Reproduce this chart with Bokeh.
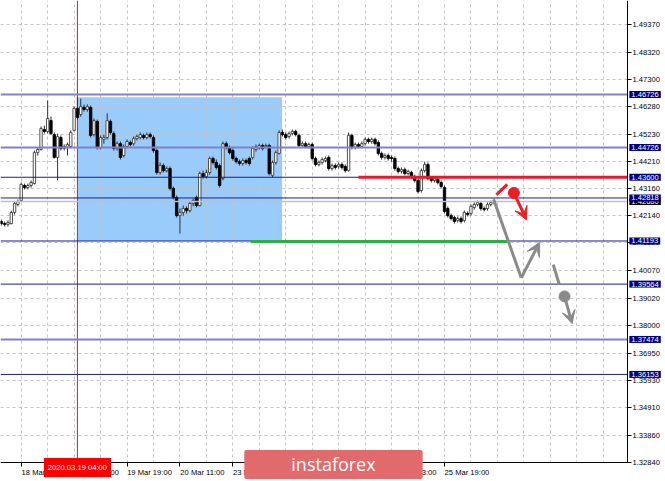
from bokeh.plotting import figure
from bokeh.models import Label, FixedTicker, Range1d, Arrow, VeeHead, LinearAxis
from bokeh.embed import file_html
from bokeh.resources import INLINE

# ---------------- data ----------------
bars = list(range(150))
opens = [1.4193,1.4185,1.4182,1.4185,1.4227,1.4257,1.4272,1.4329,1.4321,1.4329,
1.4336,1.4453,1.4465,1.4540,1.4533,1.4574,1.4521,1.4435,1.4510,1.4469,
1.4472,1.4476,1.4537,1.4620,1.4597,1.4624,1.4616,1.4624,1.4521,1.4571,
1.4472,1.4503,1.4510,1.4571,1.4525,1.4469,1.4487,1.4442,1.4476,1.4491,
1.4487,1.4506,1.4510,1.4518,1.4510,1.4521,1.4510,1.4461,1.4378,1.4404,
1.4385,1.4393,1.4318,1.4284,1.4215,1.4227,1.4242,1.4234,1.4261,1.4284,
1.4253,1.4374,1.4363,1.4378,1.4431,1.4416,1.4404,1.4355,1.4487,1.4472,
1.4461,1.4431,1.4419,1.4412,1.4423,1.4431,1.4435,1.4465,1.4472,1.4480,
1.4476,1.4480,1.4367,1.4416,1.4450,1.4529,1.4521,1.4514,1.4525,1.4533,
1.4518,1.4480,1.4487,1.4476,1.4484,1.4431,1.4408,1.4416,1.4423,1.4435,
1.4393,1.4404,1.4401,1.4408,1.4401,1.4385,1.4518,1.4472,1.4484,1.4476,
1.4487,1.4503,1.4495,1.4503,1.4491,1.4450,1.4435,1.4442,1.4435,1.4431,
1.4393,1.4382,1.4389,1.4374,1.4378,1.4363,1.4348,1.4310,1.4385,1.4408,
1.4355,1.4348,1.4352,1.4340,1.4321,1.4242,1.4215,1.4208,1.4197,1.4204,
1.4197,1.4223,1.4223,1.4246,1.4257,1.4261,1.4242,1.4242,1.4257,1.4265]
closes = [1.4185,1.4182,1.4189,1.4227,1.4261,1.4268,1.4333,1.4321,1.4329,1.4340,
1.4453,1.4465,1.4544,1.4533,1.4582,1.4525,1.4435,1.4514,1.4469,1.4476,
1.4484,1.4529,1.4620,1.4586,1.4627,1.4616,1.4627,1.4518,1.4574,1.4472,
1.4510,1.4510,1.4574,1.4529,1.4469,1.4487,1.4435,1.4476,1.4495,1.4484,
1.4506,1.4514,1.4521,1.4510,1.4521,1.4514,1.4461,1.4378,1.4404,1.4385,
1.4393,1.4318,1.4284,1.4215,1.4227,1.4242,1.4234,1.4261,1.4272,1.4253,
1.4374,1.4363,1.4378,1.4431,1.4416,1.4397,1.4329,1.4487,1.4472,1.4453,
1.4431,1.4419,1.4412,1.4423,1.4416,1.4412,1.4469,1.4476,1.4480,1.4469,
1.4480,1.4374,1.4416,1.4453,1.4529,1.4521,1.4510,1.4525,1.4533,1.4521,
1.4480,1.4487,1.4476,1.4484,1.4431,1.4408,1.4416,1.4427,1.4431,1.4393,
1.4404,1.4397,1.4408,1.4397,1.4385,1.4518,1.4472,1.4484,1.4476,1.4487,
1.4503,1.4495,1.4503,1.4487,1.4450,1.4435,1.4442,1.4431,1.4431,1.4393,
1.4382,1.4389,1.4374,1.4382,1.4363,1.4348,1.4306,1.4385,1.4408,1.4355,
1.4348,1.4355,1.4340,1.4325,1.4231,1.4215,1.4204,1.4193,1.4204,1.4193,
1.4227,1.4219,1.4250,1.4257,1.4265,1.4242,1.4238,1.4257,1.4265,1.4268]
highs = [1.4200,1.4193,1.4197,1.4234,1.4268,1.4276,1.4340,1.4336,1.4336,1.4348,
1.4461,1.4472,1.4552,1.4555,1.4650,1.4589,1.4529,1.4525,1.4518,1.4484,
1.4491,1.4537,1.4627,1.4661,1.4657,1.4635,1.4635,1.4631,1.4582,1.4578,
1.4518,1.4521,1.4601,1.4578,1.4533,1.4495,1.4495,1.4484,1.4503,1.4499,
1.4514,1.4521,1.4529,1.4525,1.4529,1.4529,1.4518,1.4469,1.4416,1.4412,
1.4401,1.4401,1.4325,1.4291,1.4242,1.4253,1.4250,1.4268,1.4280,1.4291,
1.4382,1.4385,1.4389,1.4438,1.4438,1.4427,1.4412,1.4495,1.4495,1.4480,
1.4469,1.4438,1.4427,1.4431,1.4431,1.4438,1.4476,1.4484,1.4487,1.4487,
1.4487,1.4487,1.4423,1.4461,1.4537,1.4540,1.4529,1.4533,1.4540,1.4540,
1.4525,1.4495,1.4495,1.4491,1.4491,1.4438,1.4423,1.4435,1.4438,1.4442,
1.4412,1.4412,1.4416,1.4416,1.4408,1.4529,1.4525,1.4491,1.4491,1.4495,
1.4510,1.4510,1.4510,1.4510,1.4499,1.4457,1.4450,1.4450,1.4442,1.4438,
1.4401,1.4397,1.4397,1.4389,1.4385,1.4370,1.4355,1.4393,1.4419,1.4416,
1.4363,1.4363,1.4359,1.4348,1.4329,1.4250,1.4223,1.4215,1.4212,1.4212,
1.4234,1.4231,1.4257,1.4265,1.4272,1.4268,1.4250,1.4265,1.4272,1.4280]
lows = [1.4178,1.4174,1.4174,1.4182,1.4219,1.4250,1.4268,1.4314,1.4314,1.4321,
1.4333,1.4442,1.4461,1.4525,1.4525,1.4521,1.4431,1.4348,1.4461,1.4461,
1.4442,1.4469,1.4533,1.4578,1.4589,1.4608,1.4608,1.4510,1.4514,1.4465,
1.4465,1.4487,1.4503,1.4521,1.4461,1.4461,1.4427,1.4435,1.4469,1.4476,
1.4480,1.4499,1.4503,1.4503,1.4503,1.4506,1.4453,1.4370,1.4370,1.4378,
1.4378,1.4310,1.4276,1.4208,1.4147,1.4215,1.4223,1.4227,1.4250,1.4246,
1.4250,1.4355,1.4355,1.4370,1.4408,1.4389,1.4321,1.4348,1.4465,1.4446,
1.4423,1.4412,1.4404,1.4404,1.4408,1.4404,1.4427,1.4457,1.4465,1.4461,
1.4469,1.4367,1.4359,1.4408,1.4446,1.4514,1.4503,1.4506,1.4518,1.4514,
1.4472,1.4472,1.4469,1.4469,1.4423,1.4401,1.4401,1.4408,1.4416,1.4385,
1.4385,1.4389,1.4393,1.4389,1.4378,1.4382,1.4465,1.4465,1.4469,1.4469,
1.4480,1.4487,1.4487,1.4480,1.4442,1.4427,1.4427,1.4423,1.4419,1.4385,
1.4374,1.4374,1.4367,1.4367,1.4355,1.4340,1.4299,1.4302,1.4378,1.4348,
1.4340,1.4340,1.4333,1.4318,1.4223,1.4208,1.4197,1.4185,1.4189,1.4185,
1.4189,1.4212,1.4215,1.4238,1.4250,1.4234,1.4231,1.4234,1.4250,1.4257]

price_ticks = [1.49370,1.48320,1.47300,1.46280,1.45230,1.44210,1.43160,1.42140,1.41120,
               1.40070,1.39020,1.38000,1.36950,1.35930,1.34910,1.33860,1.32840]
price_tick_labels = ["1.49370","1.48320","1.47300","1.46280","1.45230","1.44210","1.43160",
                     "1.42140","1.41120","1.40070","1.39020","1.38000","1.36950","1.35930",
                     "1.34910","1.33860","1.32840"]
time_ticks = [6, 22, 38, 54, 70, 86, 102, 118, 134]
time_labels = ["18 Mar 11:00","19 Mar 03:00","19 Mar 19:00","20 Mar 11:00","23 Mar 03:00",
               "23 Mar 19:00","24 Mar 11:00","25 Mar 03:00","25 Mar 19:00"]
grid_bars = [-2,6,14,22,30,38,46,54,62,70,78,86,94,102,110,118,126,134,142,150,158,166,174,182,190]

light_levels = [1.46726, 1.44726, 1.37474]
dark_levels = [1.43600, 1.42818, 1.41193, 1.39564, 1.36153]
level_labels = ["1.46726","1.44726","1.43600","1.42818","1.41193","1.39564","1.37474","1.36153"]
level_values = [1.46726, 1.44726, 1.43600, 1.42818, 1.41193, 1.39564, 1.37474, 1.36153]
bid_price = 1.4268
bid_label = "1.42680"

cursor_bar = 23
cursor_label = "2020.03.19 04:00"
zone_left, zone_right, zone_top, zone_bottom = 23.1, 84.9, 1.4662, 1.41193
red_level = 1.43600
red_level_x = [108, 189.33]
green_level = 1.4117
green_level_x = [75.3, 153.0]

grey_path_x = [148.9, 157.2]
grey_path_y = [1.4275, 1.3980]
grey_arrow = [157.2, 1.3980, 162.8, 1.4115]
grey_dash_x = [166.9, 168.7]
grey_dash_y = [1.4030, 1.3955]
grey_dot = [170.3, 1.3910]
grey_dot_arrow_end = [172.6, 1.3807]
red_slash_x = [149.7, 152.96]
red_slash_y = [1.4294, 1.4333]
red_dot = [155.0, 1.4301]
red_dot_arrow_end = [158.8, 1.4199]

# chart window: visible bars / prices and where the two scales sit
X_START, X_END = -0.26, 200.83
Y_START, Y_END = 1.32109, 1.50276
AXIS_BAR = 189.33      # price scale position (bar units)
AXIS_PRICE = 1.32826   # time scale position (price units)
LABEL_SHIFT = 6.8      # time labels start at their tick (half a label width, in bars)

# ---------------- figure ----------------
FONT = "Liberation Sans"
FSIZE = "7.6px"
p = figure(width=665, height=481, output_backend="svg", toolbar_location=None,
           x_range=Range1d(X_START, X_END), y_range=Range1d(Y_START, Y_END),
           y_axis_location="right", min_border=0)
p.outline_line_color = None
p.background_fill_color = "white"
p.border_fill_color = "white"

# zone rectangle (beneath grid)
zr = p.quad(left=[zone_left], right=[zone_right], top=[zone_top], bottom=[zone_bottom],
            fill_color="#99ccfb", line_color=None)
zr.level = "image"

# grid
p.xgrid.ticker = FixedTicker(ticks=grid_bars)
p.ygrid.ticker = FixedTicker(ticks=price_ticks)
for g in (p.xgrid, p.ygrid):
    g.grid_line_color = "#c4c4c4"
    g.grid_line_dash = "3 3"
    g.grid_line_width = 1

# mask the scale area so grid lines stop at the scales
p.quad(left=[AXIS_BAR], right=[X_END], top=[Y_END], bottom=[Y_START], fill_color="white", line_color=None)
p.quad(left=[X_START], right=[X_END], top=[AXIS_PRICE], bottom=[Y_START], fill_color="white", line_color=None)

# price scale
yax = p.yaxis[0]
yax.ticker = FixedTicker(ticks=price_ticks)
yax.major_label_overrides = {t: s for t, s in zip(price_ticks, price_tick_labels)}
yax.fixed_location = AXIS_BAR
yax.bounds = (AXIS_PRICE, Y_END)

# time scale: one axis for the line + tick marks, one for the left-starting labels
xax = p.xaxis[0]
xax.ticker = FixedTicker(ticks=time_ticks)
xax.major_label_text_font_size = "0px"
xax.major_label_text_color = None
xax.fixed_location = AXIS_PRICE
xax.bounds = (X_START, AXIS_BAR)

shifted = [t + LABEL_SHIFT for t in time_ticks]
xlab = LinearAxis(ticker=FixedTicker(ticks=shifted), fixed_location=AXIS_PRICE,
                  major_label_overrides={s: l for s, l in zip(shifted, time_labels)},
                  axis_line_color=None, major_tick_line_color=None, minor_tick_line_color=None,
                  bounds=(X_START, AXIS_BAR))
p.add_layout(xlab, "below")

for ax in (xax, yax, xlab):
    ax.major_tick_in = 0
    ax.major_tick_out = 4
    ax.minor_tick_line_color = None
    ax.major_label_text_font = FONT
    ax.major_label_standoff = 1
for ax in (xax, yax):
    ax.axis_line_color = "black"
    ax.major_tick_line_color = "black"
for ax in (yax, xlab):
    ax.major_label_text_font_size = FSIZE
    ax.major_label_text_color = "black"

# cursor vertical line
p.segment(x0=[cursor_bar], y0=[AXIS_PRICE], x1=[cursor_bar], y1=[Y_END], line_color="#c42030", line_width=1)

# candles
up_x = [b for b, o, c in zip(bars, opens, closes) if c >= o]
up_top = [c for o, c in zip(opens, closes) if c >= o]
up_bot = [o for o, c in zip(opens, closes) if c >= o]
dn_x = [b for b, o, c in zip(bars, opens, closes) if c < o]
dn_top = [o for o, c in zip(opens, closes) if c < o]
dn_bot = [c for o, c in zip(opens, closes) if c < o]
p.segment(x0=bars, y0=highs, x1=bars, y1=lows, line_color="#303030", line_width=1)
p.vbar(x=up_x, top=up_top, bottom=up_bot, width=0.72, fill_color="white", line_color="#404040", line_width=0.9)
p.vbar(x=dn_x, top=dn_top, bottom=dn_bot, width=0.72, fill_color="black", line_color="black", line_width=0.9)

# horizontal levels
n_l = len(light_levels)
n_d = len(dark_levels)
p.segment(x0=[X_START] * n_l, y0=light_levels, x1=[AXIS_BAR] * n_l, y1=light_levels,
          line_color="#8080d0", line_width=2)
p.segment(x0=[X_START] * n_d, y0=dark_levels, x1=[AXIS_BAR] * n_d, y1=dark_levels,
          line_color="#1c1c8a", line_width=1)
p.segment(x0=[X_START], y0=[bid_price], x1=[AXIS_BAR], y1=[bid_price], line_color="#c0c0c0", line_width=1.5)

p.line(x=red_level_x, y=[red_level, red_level], line_color="#e8192c", line_width=3)
p.line(x=green_level_x, y=[green_level, green_level], line_color="#2fae45", line_width=3)

# forecast drawings
GREY = "#8a8a8a"
RED = "#ee1c25"
p.line(x=grey_path_x, y=grey_path_y, line_color=GREY, line_width=3)
p.add_layout(Arrow(end=VeeHead(size=14, fill_color=GREY, line_color=GREY),
                   x_start=grey_arrow[0], y_start=grey_arrow[1], x_end=grey_arrow[2], y_end=grey_arrow[3],
                   line_color=GREY, line_width=3))
p.line(x=grey_dash_x, y=grey_dash_y, line_color=GREY, line_width=3)
p.add_layout(Arrow(end=VeeHead(size=13, fill_color=GREY, line_color=GREY),
                   x_start=grey_dot[0], y_start=grey_dot[1], x_end=grey_dot_arrow_end[0], y_end=grey_dot_arrow_end[1],
                   line_color=GREY, line_width=3))
p.scatter(x=[grey_dot[0]], y=[grey_dot[1]], size=11, fill_color=GREY, line_color=GREY)
p.line(x=red_slash_x, y=red_slash_y, line_color=RED, line_width=3)
p.add_layout(Arrow(end=VeeHead(size=13, fill_color=RED, line_color=RED),
                   x_start=red_dot[0], y_start=red_dot[1], x_end=red_dot_arrow_end[0], y_end=red_dot_arrow_end[1],
                   line_color=RED, line_width=3))
p.scatter(x=[red_dot[0]], y=[red_dot[1]], size=11, fill_color=RED, line_color=RED)

# price boxes on the price scale
LABEL_X = 189.9
p.add_layout(Label(x=LABEL_X, y=bid_price, text=bid_label, text_color="white", text_font=FONT,
                   text_font_size=FSIZE, text_align="left", text_baseline="middle",
                   background_fill_color="black", padding=dict(left=2, right=2, top=1, bottom=1)))
for lv, lab in zip(level_values, level_labels):
    p.add_layout(Label(x=LABEL_X, y=lv, text=lab, text_color="white", text_font=FONT,
                       text_font_size=FSIZE, text_align="left", text_baseline="middle",
                       background_fill_color="#000080", padding=dict(left=2, right=2, top=1, bottom=1)))

# cursor time box
p.add_layout(Label(x=cursor_bar, y=1.32637, text=cursor_label, text_color="white", text_font=FONT,
                   text_font_size=FSIZE, text_align="center", text_baseline="middle",
                   background_fill_color="#ff0000", padding=dict(left=4, right=4, top=5, bottom=5)))

# watermark logo
p.add_layout(Label(x=100.43, y=1.32751, text="instaforex", text_color="white", text_font="Open Sans",
                   text_font_size="18px", text_align="center", text_baseline="middle",
                   background_fill_color="#e06a6c", border_radius=2,
                   padding=dict(left=47, right=47, top=2, bottom=3)))

open("out.html", "w").write(file_html(p, INLINE))
